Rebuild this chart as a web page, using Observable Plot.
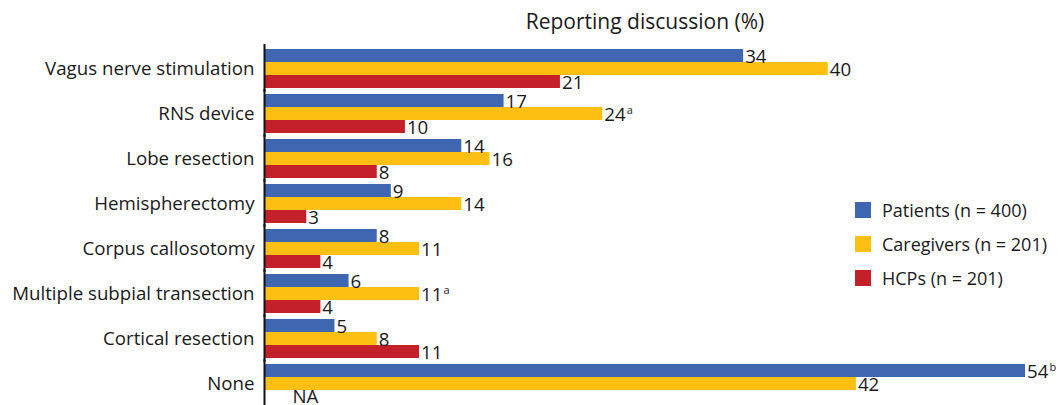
<!DOCTYPE html>
<html>
<head>
<meta charset="utf-8">
<script src="https://cdn.jsdelivr.net/npm/d3@7"></script>
<script src="https://cdn.jsdelivr.net/npm/@observablehq/plot@0.6"></script>
<style>
  body { margin: 0; background: #fff; font-family: "Open Sans", sans-serif; color: #1a1a1a; }
  #wrap { position: relative; width: 1059px; height: 405px; overflow: hidden; }
  #title { position: absolute; left: 445px; width: 400px; top: 7px; text-align: center; font-size: 21px; }
  #legend { position: absolute; left: 855px; top: 193px; font-size: 18px; }
  .row { display: flex; align-items: center; height: 34px; }
  .sw { width: 16px; height: 16px; margin-right: 11px; }
  #chart { position: absolute; left: 0; top: 0; }
</style>
</head>
<body>
<div id="wrap">
  <div id="chart"></div>
  <div id="title">Reporting discussion (%)</div>
  <div id="legend"></div>
</div>
<script>
const categories = ["Vagus nerve stimulation", "RNS device", "Lobe resection", "Hemispherectomy",
  "Corpus callosotomy", "Multiple subpial transection", "Cortical resection", "None"];
const seriesNames = ["Patients (n = 400)", "Caregivers (n = 201)", "HCPs (n = 201)"];
const colors = ["#3f67b1", "#fdbf11", "#c4202a"];
const patients = [34, 17, 14, 9, 8, 6, 5, 54];
const caregivers = [40, 24, 16, 14, 11, 11, 8, 42];
const hcps = [21, 10, 8, 3, 4, 4, 11, null];
const patientNotes = ["", "", "", "", "", "", "", "b"];
const caregiverNotes = ["", "a", "", "", "", "a", "", ""];
const hcpNotes = ["", "", "", "", "", "", "", ""];

const seriesValues = [patients, caregivers, hcps];
const seriesNotes = [patientNotes, caregiverNotes, hcpNotes];
const data = [];
categories.forEach((c, i) => {
  seriesNames.forEach((s, j) => {
    data.push({category: c, series: s, value: seriesValues[j][i], note: seriesNotes[j][i]});
  });
});
const present = data.filter(d => d.value != null);
const missing = data.filter(d => d.value == null);
const noted = data.filter(d => d.note);

const chart = Plot.plot({
  width: 1059,
  height: 405,
  marginLeft: 264,
  marginRight: 34,
  marginTop: 46,
  marginBottom: 0,
  style: {fontFamily: "Open Sans", fontSize: "18.7px", color: "#1a1a1a", background: "transparent"},
  x: {domain: [0, 54], axis: null},
  y: {domain: seriesNames, axis: null, padding: 0},
  fy: {domain: categories, paddingInner: 0.12, paddingOuter: 0, label: null},
  color: {domain: seriesNames, range: colors},
  marks: [
    Plot.axisFy({anchor: "left", tickSize: 0, tickPadding: 10, label: null, fontSize: 18.7, dy: 1}),
    Plot.barX(present, {fy: "category", y: "series", x: "value", fill: "series"}),
    Plot.text(present, {fy: "category", y: "series", x: "value", text: d => String(d.value),
      textAnchor: "start", dx: 1.5, dy: 1, fontSize: 18.7, fill: "#1a1a1a"}),
    Plot.text(noted, {fy: "category", y: "series", x: "value", text: "note",
      textAnchor: "start", dx: 24, dy: -3.5, fontSize: 11, fill: "#1a1a1a"}),
    Plot.text(missing, {fy: "category", y: "series", x: 0, text: () => "NA",
      textAnchor: "start", dx: 28, dy: 0, fontSize: 18.7, fill: "#1a1a1a"}),
    Plot.ruleX([0], {insetTop: -4, insetBottom: -4, stroke: "#111", strokeWidth: 2})
  ]
});
document.getElementById("chart").appendChild(chart);

const legend = document.getElementById("legend");
seriesNames.forEach((s, j) => {
  const row = document.createElement("div");
  row.className = "row";
  const sw = document.createElement("div");
  sw.className = "sw";
  sw.style.background = colors[j];
  const t = document.createElement("span");
  t.textContent = s;
  row.appendChild(sw);
  row.appendChild(t);
  legend.appendChild(row);
});
</script>
</body>
</html>
